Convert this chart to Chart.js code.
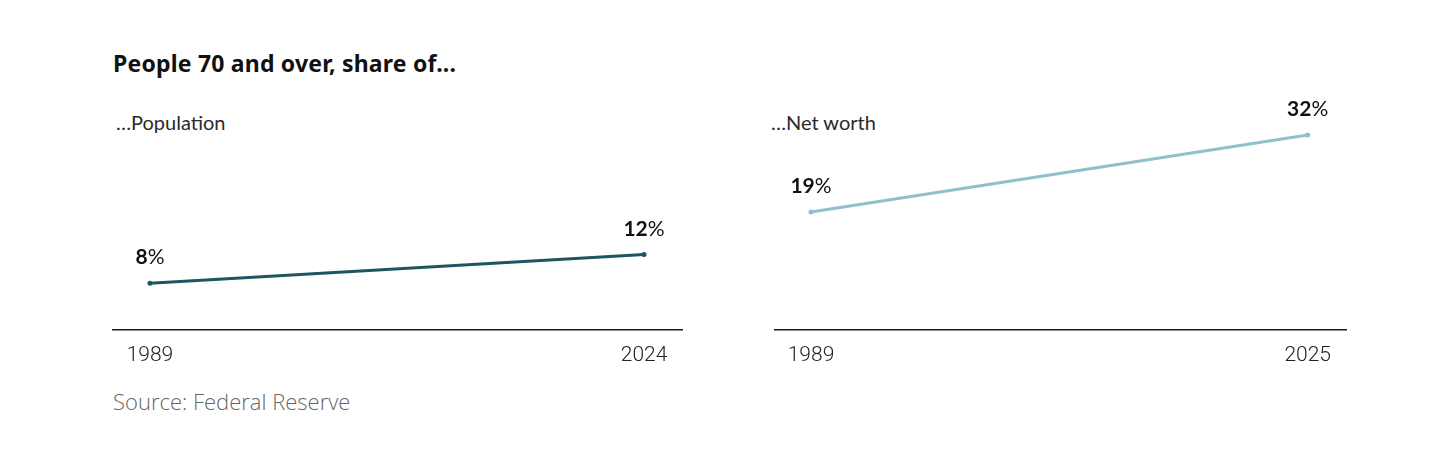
<!DOCTYPE html>
<html>
<head>
<meta charset="utf-8">
<script src="https://cdn.jsdelivr.net/npm/chart.js@4.4.1/dist/chart.umd.min.js"></script>
<style>
  html, body { margin: 0; padding: 0; background: #fff; }
  body { width: 1456px; height: 457px; position: relative; overflow: hidden; font-family: Lato, "Noto Sans", sans-serif; }
  .title { position: absolute; left: 113px; top: 47px; font-family: "Noto Sans", sans-serif; font-size: 23px; font-weight: 700; color: #111; letter-spacing: 0.2px; }
  .sub { position: absolute; top: 110px; font-size: 20px; font-weight: 400; color: #2a2a2a; }
  .source { position: absolute; left: 113px; top: 386px; font-family: "Open Sans", sans-serif; font-size: 22px; font-weight: 300; color: #666; }
  .panel { position: absolute; top: 100px; height: 271px; }
</style>
</head>
<body>
<div class="title">People 70 and over, share of...</div>
<div class="sub" style="left:116px">…Population</div>
<div class="sub" style="left:771px">…Net worth</div>
<div class="panel" style="left:112px;width:571px"><canvas id="popChart"></canvas></div>
<div class="panel" style="left:774px;width:573px"><canvas id="worthChart"></canvas></div>
<div class="source">Source: Federal Reserve</div>
<script>
// data
const popYears = [1989, 2024];
const popShare = [8, 12];
const worthYears = [1989, 2025];
const worthShare = [19, 32];

const tickFont = { family: 'Roboto, "Noto Sans", sans-serif', size: 21, weight: 300 };

// value labels above the end points: bold number, lighter % sign
const endLabels = {
  id: 'endLabels',
  afterDatasetsDraw(chart) {
    const ctx = chart.ctx;
    const meta = chart.getDatasetMeta(0);
    const values = chart.data.datasets[0].data;
    ctx.save();
    ctx.textBaseline = 'alphabetic';
    ctx.fillStyle = '#111';
    meta.data.forEach((pt, i) => {
      const num = String(values[i].y);
      ctx.font = '700 21px Lato, "Noto Sans", sans-serif';
      const wNum = ctx.measureText(num).width;
      ctx.font = '400 21px Lato, "Noto Sans", sans-serif';
      const wPct = ctx.measureText('%').width;
      const x0 = pt.x - (wNum + wPct) / 2;
      const y = pt.y - 19;
      ctx.font = '700 21px Lato, "Noto Sans", sans-serif';
      ctx.fillText(num, x0, y);
      ctx.font = '400 21px Lato, "Noto Sans", sans-serif';
      ctx.fillText('%', x0 + wNum, y);
    });
    ctx.restore();
  }
};

function makeChart(id, years, values, color, xMin, xMax, yMin, yMax) {
  const ctx = document.getElementById(id).getContext('2d');
  return new Chart(ctx, {
    type: 'line',
    data: {
      datasets: [
        {
          data: years.map((y, i) => ({ x: y, y: values[i] })),
          borderColor: color,
          backgroundColor: color,
          borderWidth: 3,
          pointRadius: 2.5,
          pointBorderWidth: 0,
          tension: 0,
          clip: false,
        },
      ],
    },
    options: {
      responsive: true,
      maintainAspectRatio: false,
      animation: false,
      layout: { padding: 0, autoPadding: false },
      plugins: { legend: { display: false }, tooltip: { enabled: false } },
      scales: {
        x: {
          type: 'linear',
          min: xMin,
          max: xMax,
          afterBuildTicks: (axis) => { axis.ticks = years.map((v) => ({ value: v })); },
          grid: { display: false, drawTicks: true, tickLength: 11 },
          border: { display: true, color: '#1a1a1a', width: 1.5 },
          ticks: { padding: 2.5, color: '#222', font: tickFont, maxRotation: 0, autoSkip: false, callback: (v) => String(v) },
        },
        y: {
          display: false,
          min: yMin,
          max: yMax,
        },
      },
    },
    plugins: [endLabels],
  });
}

makeChart('popChart', popYears, popShare, '#1d5561', 1986.31, 2026.76, 1.54, 33.5);
makeChart('worthChart', worthYears, worthShare, '#8ec0cd', 1986.32, 2027.85, -0.88, 37.9);
</script>
</body>
</html>
